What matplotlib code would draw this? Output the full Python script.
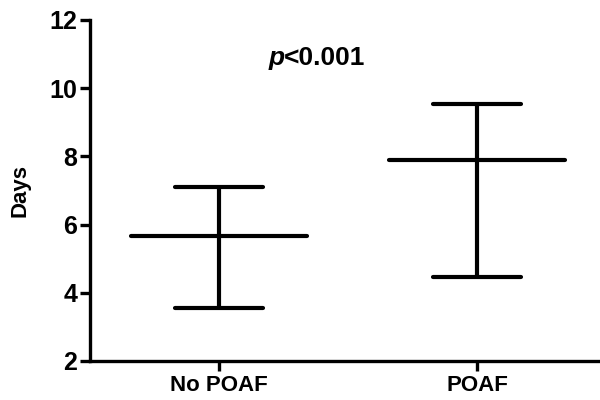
#Mean and range of hospital stay, No POAF vs POAF
import numpy as np
import matplotlib
matplotlib.use("Agg")
import matplotlib.pyplot as plt

groups=["No POAF","POAF"]
means=[5.67,7.89]
lower=[3.56,4.47]
upper=[7.09,9.53]

plt.rcParams["font.family"]=["Liberation Sans","DejaVu Sans"]
plt.rcParams["font.weight"]="bold"

fig=plt.figure(figsize=(6,4),dpi=100)
ax=fig.add_axes([0.15,0.0975,0.86,0.8525])

x=np.arange(len(groups))
lw=3.0
ax.vlines(x,lower,upper,color="black",linewidth=lw)
ax.hlines(means,x-0.34,x+0.34,color="black",linewidth=lw,capstyle="round")
ax.hlines(lower,x-0.17,x+0.17,color="black",linewidth=lw,capstyle="round")
ax.hlines(upper,x-0.17,x+0.17,color="black",linewidth=lw,capstyle="round")

ax.set_xlim(-0.5,1.5)
ax.set_ylim(2,12)
ax.set_yticks(range(2,13,2))
ax.set_xticks(x)
ax.set_xticklabels(groups,fontsize=16,fontweight="bold")
ax.tick_params(axis="y",labelsize=18,width=lw*0.8,length=7,pad=2)
ax.tick_params(axis="x",width=lw*0.8,length=7,pad=3)
for lab in ax.get_yticklabels():
    lab.set_fontweight("bold")
ax.set_ylabel("Days",fontsize=16,fontweight="bold",labelpad=14)

ax.spines["top"].set_visible(False)
ax.spines["right"].set_visible(False)
ax.spines["left"].set_linewidth(lw*0.8)
ax.spines["bottom"].set_linewidth(lw*0.8)

ax.text(0.255,10.9,"p",fontsize=19,fontweight="bold",style="italic",ha="right",va="center")
ax.text(0.25,10.9,"<0.001",fontsize=19,fontweight="bold",ha="left",va="center")

plt.savefig("out.png",dpi=100)
